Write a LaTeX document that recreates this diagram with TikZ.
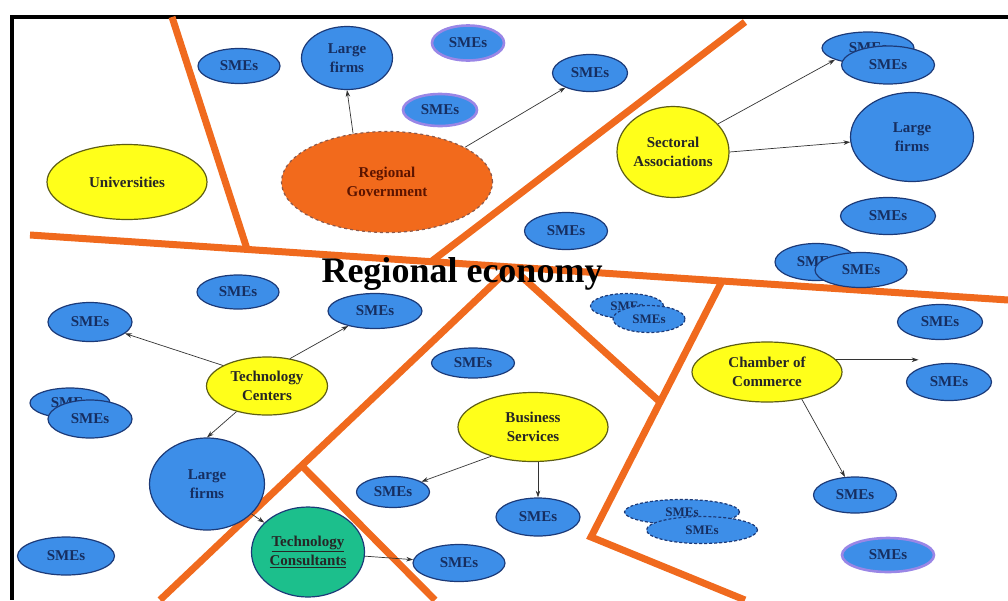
\documentclass[tikz,border=0pt]{standalone}
\usepackage{fontspec}
\setmainfont{Liberation Serif}
\usetikzlibrary{arrows.meta,shapes.geometric,calc}
\definecolor{cSme} {HTML}{3D8EE8}
\definecolor{cSmeD}{HTML}{1C3A78}
\definecolor{cInst}{HTML}{FFFF1A}
\definecolor{cInstD}{HTML}{5E5E14}
\definecolor{cGov} {HTML}{F26A1C}
\definecolor{cGovT}{HTML}{5C1400}
\definecolor{cCons}{HTML}{1CBF8C}
\definecolor{cDiv} {HTML}{F06A1E}
\definecolor{cGlow}{HTML}{9A86E6}
\tikzset{
  bub/.style  ={ellipse,draw,line width=1.2pt,inner sep=0pt,align=center,
                font=\fontsize{15}{19}\selectfont\bfseries},
  sme/.style  ={bub,draw=cSmeD,fill=cSme,text=cSmeD!80!black},
  glow/.style ={sme,draw=cGlow,line width=2.6pt},
  fuzz/.style ={sme,densely dashed,font=\fontsize{13}{15}\selectfont\bfseries},
  firm/.style ={sme},
  inst/.style ={bub,draw=cInstD,fill=cInst,text=black!85},
  gov/.style  ={bub,draw=cGovT!70,dashed,fill=cGov,text=cGovT},
  cons/.style ={bub,draw=cSmeD,fill=cCons,text=black!85},
  divl/.style ={draw=cDiv,line width=7pt},
  frm/.style  ={draw=black,line width=4pt},
  lnk/.style  ={-{Stealth[length=2.4mm,width=1.6mm]},draw=black!80,line width=0.7pt},
}
\begin{document}
\begin{tikzpicture}[x=1pt,y=-1pt]
\useasboundingbox (0,0) rectangle (1008,600);

% ===== frame and sector borders ============================================
\draw[frm] (1008,17) -- (12,17) -- (12,600);
\coordinate (jL) at (247,249);
\coordinate (jT) at (432,261);
\coordinate (jM) at (511,267);
\coordinate (jR) at (722,281);
\coordinate (jB) at (660,402);
\coordinate (jK) at (591,537);
\coordinate (jC) at (302,466);
\draw[divl] (30,235) -- (1008,300);
\draw[divl] (172,17) -- (jL);
\draw[divl] (745,22) -- (jT);
\draw[divl] (jM) -- (160,600);
\draw[divl] (jM) -- (jB);
\draw[divl] (jR) -- (jK) -- (745,600);
\draw[divl] (jC) -- (435,600);

% ===== top sectors =========================================================
\node[sme, minimum width=82, minimum height=35] (smeA) at (239,66) {SMEs};
\node[firm,minimum width=91, minimum height=63] (lfA)  at (347,58) {Large\\firms};
\node[glow,minimum width=72, minimum height=35] (smeB) at (468,43) {SMEs};
\node[glow,minimum width=74, minimum height=32] (smeC) at (440,110) {SMEs};
\node[inst,minimum width=160,minimum height=75] (univ) at (127,182) {Universities};
\node[gov, minimum width=211,minimum height=101] (gov) at (387,182) {Regional\\Government};
\node[sme, minimum width=75, minimum height=37] (smeD) at (590,73) {SMEs};
\node[inst,minimum width=112,minimum height=91] (sec)  at (673,152) {Sectoral\\Associations};
\node[sme, minimum width=92, minimum height=32] (smeE1) at (868,48) {SMEs};
\node[sme, minimum width=93, minimum height=38] (smeE2) at (888,65) {SMEs};
\node[firm,minimum width=123,minimum height=89] (lfB)  at (912,137) {Large\\firms};
\node[sme, minimum width=95, minimum height=37] (smeF) at (888,216) {SMEs};
\node[sme, minimum width=83, minimum height=37] (smeG) at (566,231) {SMEs};
\node[sme, minimum width=82, minimum height=37] (smeH1) at (816,262) {SMEs};
\node[sme, minimum width=92, minimum height=35] (smeH2) at (861,270) {SMEs};
\draw[lnk] (gov.125) -- (lfA.south);
\draw[lnk] (gov.24) -- (smeD);
\draw[lnk] (sec.32) -- (smeE1.south west);
\draw[lnk] (sec.east) -- (lfB);

% ===== left sector =========================================================
\node[sme, minimum width=82, minimum height=34] (smeJ) at (238,292) {SMEs};
\node[sme, minimum width=84, minimum height=39] (smeK) at (90,322) {SMEs};
\node[sme, minimum width=94, minimum height=35] (smeL) at (375,311) {SMEs};
\node[inst,minimum width=121,minimum height=58] (tc)   at (267,386) {Technology\\Centers};
\node[sme, minimum width=80, minimum height=30] (smeM1) at (70,403) {SMEs};
\node[sme, minimum width=84, minimum height=38] (smeM2) at (90,419) {SMEs};
\node[firm,minimum width=115,minimum height=92] (lfC)  at (207,484) {Large\\firms};
\node[sme, minimum width=97, minimum height=38] (smeN) at (66,556) {SMEs};
\node[cons,minimum width=113,minimum height=90] (cons) at (308,552)
  {\underline{Technology}\\\underline{Consultants}};
\node[sme, minimum width=92, minimum height=37] (smeO) at (459,563) {SMEs};
\draw[lnk] (tc.155) -- (smeK);
\draw[lnk] (tc.50) -- (smeL);
\draw[lnk] (tc.220) -- (lfC.north);
\draw[lnk] (lfC) -- (cons);
\draw[lnk] (cons) -- (smeO);

% ===== middle sector =======================================================
\node[sme, minimum width=83, minimum height=30] (smeP) at (473,363) {SMEs};
\node[fuzz,minimum width=73, minimum height=25] (smeQ1) at (627,306) {SMEs};
\node[fuzz,minimum width=72, minimum height=27] (smeQ2) at (649,319) {SMEs};
\node[inst,minimum width=150,minimum height=69] (bus)  at (533,427) {Business\\Services};
\node[sme, minimum width=73, minimum height=31] (smeR) at (393,492) {SMEs};
\node[sme, minimum width=84, minimum height=38] (smeS) at (538,517) {SMEs};
\draw[lnk] (bus.215) -- (smeR);
\draw[lnk] (smeS.north |- bus.south) -- (smeS.north);

% ===== right sector ========================================================
\node[sme, minimum width=85, minimum height=35] (smeI) at (940,322) {SMEs};
\node[inst,minimum width=150,minimum height=60] (coc)  at (767,372) {Chamber of\\Commerce};
\node[sme, minimum width=85, minimum height=37] (smeT) at (949,382) {SMEs};
\node[sme, minimum width=83, minimum height=36] (smeU) at (855,495) {SMEs};
\node[glow,minimum width=92, minimum height=34] (smeV) at (888,555) {SMEs};
\node[fuzz,minimum width=115,minimum height=25] (smeW1) at (682,512) {SMEs};
\node[fuzz,minimum width=111,minimum height=27] (smeW2) at (702,530) {SMEs};
\draw[lnk] (coc.10) -- (coc.10 -| smeT.north west);
\draw[lnk] (coc.322) -- (smeU);

% ===== title ===============================================================
\node[font=\fontsize{36}{40}\selectfont\bfseries] (title) at (462,274) {Regional economy};
\end{tikzpicture}
\end{document}
